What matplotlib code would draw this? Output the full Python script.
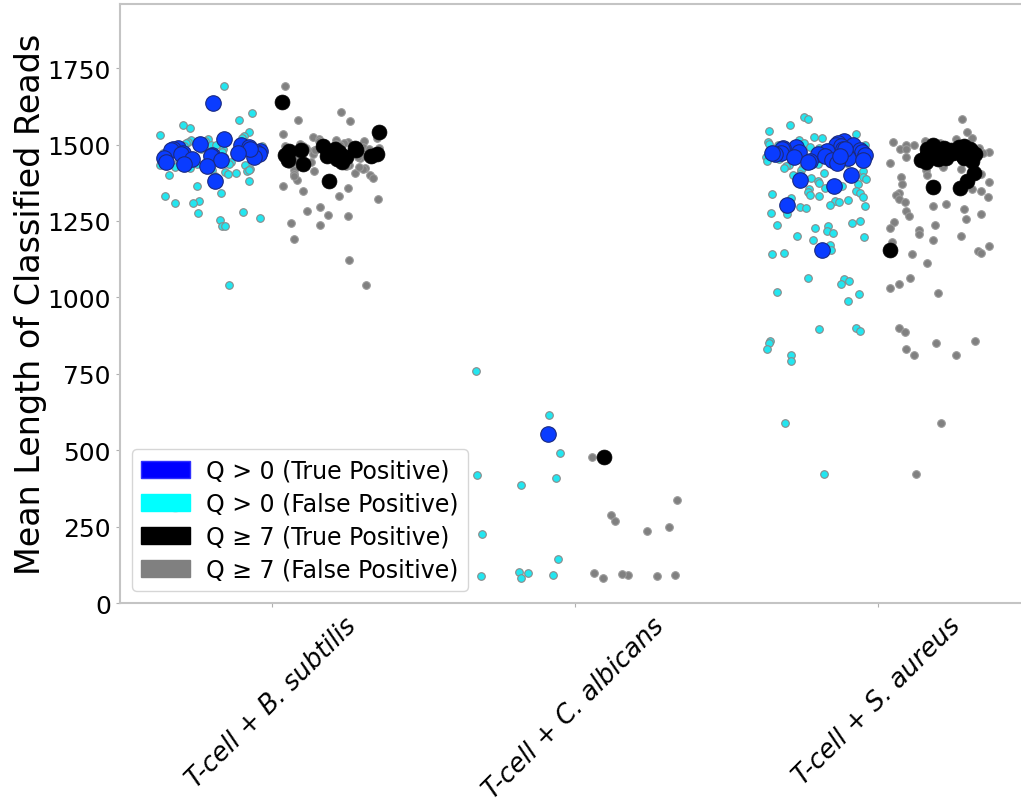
import numpy as np
import matplotlib
matplotlib.use("Agg")
from matplotlib import pyplot as plt
from matplotlib.patches import Patch

# categories on the x axis
samples = ["T-cell + B. subtilis", "T-cell + C. albicans", "T-cell + S. aureus"]

# mean length of classified reads
# Q > 0, false positives (cyan)
q0_fp = [
    [1691, 1603, 1580, 1564, 1554, 1541, 1532, 1527, 1521, 1518, 1514, 1509, 1506,
     1503, 1499, 1497, 1494, 1491, 1487, 1486, 1483, 1479, 1477, 1474, 1471, 1469,
     1466, 1463, 1461, 1457, 1454, 1452, 1449, 1446, 1443, 1441, 1438, 1434, 1432,
     1428, 1426, 1421, 1418, 1414, 1411, 1407, 1402, 1396, 1389, 1380, 1364, 1341,
     1331, 1315, 1310, 1308, 1279, 1276, 1259, 1253, 1233, 1233, 1040, 311,
     1512, 1496, 1484, 1472, 1459, 1447, 1436, 1424, 1416, 1405],
    [759, 615, 490, 409, 386, 419, 226, 144, 101, 88, 92, 98, 82],
    [1590, 1583, 1564, 1544, 1534, 1526, 1521, 1516, 1512, 1508, 1505, 1503, 1499,
     1497, 1494, 1492, 1489, 1487, 1484, 1481, 1479, 1476, 1474, 1471, 1469, 1466,
     1463, 1461, 1458, 1456, 1453, 1451, 1448, 1446, 1443, 1441, 1438, 1436, 1433,
     1430, 1427, 1423, 1418, 1415, 1407, 1403, 1400, 1395, 1390, 1386, 1381, 1374,
     1371, 1364, 1359, 1355, 1348, 1345, 1341, 1338, 1335, 1331, 1327, 1325, 1320,
     1315, 1311, 1302, 1299, 1296, 1292, 1287, 1276, 1272, 1250, 1243, 1236, 1233,
     1226, 1217, 1211, 1200, 1197, 1187, 1171, 1155, 1145, 1142, 1063, 1060, 1053,
     1043, 1017, 1011, 988, 900, 896, 890, 857, 850, 831, 811, 792, 589, 422],
]

# Q > 0, true positives (blue)
q0_tp = [
    [1636, 1518, 1380, 1503, 1497, 1492, 1488, 1486, 1482, 1479, 1476, 1473, 1470,
     1468, 1466, 1463, 1461, 1457, 1453, 1449, 1444, 1438, 1431, 1484, 1471],
    [553],
    [1511, 1505, 1500, 1497, 1494, 1491, 1489, 1486, 1484, 1481, 1479, 1477, 1475,
     1472, 1470, 1468, 1466, 1463, 1461, 1458, 1456, 1453, 1451, 1449, 1446, 1443,
     1440, 1400, 1384, 1364, 1302, 1155, 1487, 1474, 1462],
]

# Q >= 7, false positives (grey)
q7_fp = [
    [1691, 1606, 1580, 1578, 1533, 1526, 1520, 1516, 1512, 1508, 1505, 1502, 1499,
     1496, 1493, 1490, 1487, 1485, 1482, 1479, 1476, 1473, 1471, 1468, 1465, 1462,
     1459, 1456, 1453, 1450, 1447, 1444, 1441, 1437, 1433, 1429, 1424, 1419, 1413,
     1408, 1401, 1392, 1384, 1364, 1357, 1349, 1331, 1321, 1295, 1282, 1269, 1266,
     1243, 1236, 1190, 1122, 1040,
     1518, 1511, 1503, 1494, 1488, 1481, 1474, 1466, 1458, 1451, 1443, 1435, 1427,
     1416, 1404, 1396],
    [477, 337, 288, 268, 249, 236, 82, 92, 92, 95, 88, 98],
    [1583, 1541, 1522, 1517, 1513, 1509, 1506, 1503, 1500, 1497, 1495, 1492, 1490,
     1487, 1485, 1482, 1480, 1477, 1475, 1472, 1470, 1467, 1465, 1462, 1460, 1457,
     1455, 1452, 1449, 1447, 1444, 1441, 1438, 1434, 1430, 1426, 1421, 1416, 1411,
     1405, 1399, 1394, 1386, 1378, 1371, 1362, 1356, 1349, 1343, 1336, 1329, 1321,
     1311, 1304, 1299, 1289, 1282, 1274, 1266, 1255, 1246, 1236, 1227, 1219, 1209,
     1201, 1189, 1181, 1168, 1151, 1146, 1142, 1112, 1063, 1043, 1030, 1014, 900,
     887, 857, 850, 831, 811, 811, 589, 422],
]

# Q >= 7, true positives (black)
q7_tp = [
    [1640, 1541, 1380, 1495, 1490, 1486, 1483, 1479, 1476, 1472, 1469, 1466, 1462,
     1458, 1454, 1449, 1443, 1436, 1481, 1464],
    [477],
    [1500, 1496, 1492, 1489, 1486, 1483, 1481, 1478, 1476, 1473, 1471, 1468, 1466,
     1463, 1460, 1458, 1455, 1452, 1449, 1446, 1442, 1407, 1380, 1361, 1357, 1155,
     1485, 1470, 1457],
]

rng = np.random.default_rng(7)
jit = 0.17


def strip(ax, groups, offset, size, face, edge, lw, z):
    for i, vals in enumerate(groups):
        x = i + offset + rng.uniform(-jit, jit, len(vals))
        ax.scatter(x, vals, s=size, c=face, edgecolors=edge, linewidths=lw, zorder=z)


fig = plt.figure(figsize=(10.21, 8.04), dpi=100)
ax = fig.add_axes([120 / 1021, 1 - 604 / 804, 909 / 1021, 599 / 804])

strip(ax, q0_fp, -0.2, 30, "#22e6f0", "#8a8a8a", 0.8, 2)
strip(ax, q7_fp, 0.2, 30, "#808080", "#9a9a9a", 0.8, 2)
strip(ax, q0_tp, -0.2, 125, "#0a3cff", "#1a2a80", 0.8, 3)
strip(ax, q7_tp, 0.2, 115, "black", "black", 0.5, 3)

ax.set_xlim(-0.5, 2.5)
ax.set_ylim(0, 1960)
ax.set_xticks(range(len(samples)))
ax.set_xticklabels(samples, rotation=45, style="italic", fontsize=18.5)
ax.set_yticks([0, 250, 500, 750, 1000, 1250, 1500, 1750])
ax.tick_params(axis="y", labelsize=18)
ax.tick_params(axis="both", color="#b0b0b0", length=3)
ax.set_ylabel("Mean Length of Classified Reads", fontsize=24, labelpad=0)
for sp in ax.spines.values():
    sp.set_color("#c4c4c4")
    sp.set_linewidth(1.5)

handles = [
    Patch(facecolor="blue", edgecolor="#3030ff", label="Q > 0 (True Positive)"),
    Patch(facecolor="cyan", edgecolor="cyan", label="Q > 0 (False Positive)"),
    Patch(facecolor="black", edgecolor="black", label="Q ≥ 7 (True Positive)"),
    Patch(facecolor="gray", edgecolor="gray", label="Q ≥ 7 (False Positive)"),
]
ax.legend(handles=handles, loc="lower left", fontsize=17, handlelength=2.05,
          handleheight=0.78, handletextpad=0.7, labelspacing=0.38)

fig.savefig("out.png", dpi=100)
